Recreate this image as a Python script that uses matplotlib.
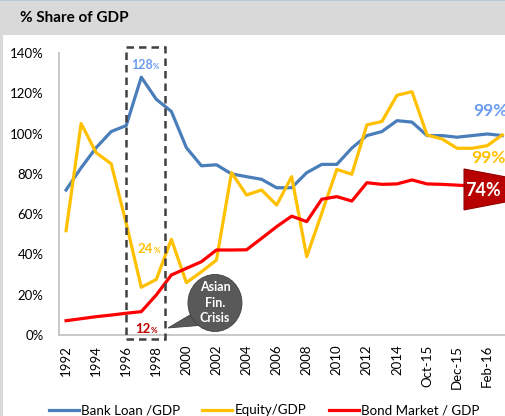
import numpy as np
import matplotlib.pyplot as plt
from matplotlib.patches import Ellipse, Polygon, Rectangle

plt.rcParams['font.family'] = ['Lato', 'DejaVu Sans']

# categories: annual 1992-2014, then monthly
periods = [str(y) for y in range(1992, 2015)] + ["Sep-15", "Oct-15", "Nov-15", "Dec-15",
                                                 "Jan-16", "Feb-16", "Mar-16"]
bank_loan = [72, 83, 93, 101, 104, 128, 117, 111, 93, 84, 84.5, 80, 78.6, 77.3, 73.1,
             73.1, 80.6, 84.7, 84.7, 92.8, 99, 101, 106.4, 105.7, 99, 99, 98.2, 99, 99.8, 99]
equity = [51.8, 105, 90.5, 85, 55.4, 23.7, 27.6, 47.5, 26, 31.4, 37.2, 80.6, 69.5, 72, 64.5,
          78.6, 38.9, 60.5, 82.2, 79.8, 104.3, 106, 119, 120.8, 99.3, 97.3, 92.7, 92.7, 94, 99.3]
bond = [7.1, 8.1, 9.1, 9.9, 10.8, 11.6, 19.9, 29.8, 33.1, 36.4, 42.2, 42.2, 42.3, 48, 53.8,
        59, 56.3, 67.4, 68.7, 66.5, 75.6, 74.8, 75, 77, 75, 74.8, 74.4, 74, 74, 74]

blue = '#4a7ebb'
yellow = '#ffc000'
red = '#ff0000'
lightblue = '#6c9cf0'

fig = plt.figure(figsize=(5.06, 4.16), dpi=100)
fig.patch.set_facecolor('white')

# title band and frame
fig.patches.append(Rectangle((0, 0.915), 1, 0.085, transform=fig.transFigure,
                             facecolor='#d9d9d9', edgecolor='none', zorder=0))
fig.patches.append(Rectangle((0, 0.997), 1, 0.003, transform=fig.transFigure,
                             facecolor='#b8c6d6', edgecolor='none', zorder=1))
fig.patches.append(Rectangle((0, 0), 0.005, 0.915, transform=fig.transFigure,
                             facecolor='#d9d9d9', edgecolor='none', zorder=0))
fig.text(0.04, 0.957, "% Share of GDP", fontsize=11, fontweight='bold', va='center')

ax = fig.add_axes([0.1166, 0.1947, 0.8834, 0.6779])
x = np.arange(len(periods))

ax.plot(x, bank_loan, color=blue, lw=2.3, label="Bank Loan /GDP", zorder=3)
ax.plot(x, equity, color=yellow, lw=2.3, label="Equity/GDP", zorder=3)
ax.plot(x, bond, color=red, lw=2.3, label="Bond Market / GDP", zorder=3)

ax.set_xlim(-0.47, 29.25)
ax.set_ylim(0, 140)
ax.set_yticks(np.arange(0, 141, 20))
ax.set_yticklabels([f"{v}%" for v in range(0, 141, 20)], fontsize=9.5)
ax.set_xticks(x[::2])
ax.set_xticklabels(periods[::2], rotation=90, fontsize=9.5)
ax.tick_params(axis='y', length=0, pad=11)
ax.tick_params(axis='x', length=0, pad=7)
for s in ['top', 'right']:
    ax.spines[s].set_visible(False)
for s in ['left', 'bottom']:
    ax.spines[s].set_color('#bfbfbf')
    ax.spines[s].set_linewidth(1.2)

# Asian crisis box
ax.add_patch(Rectangle((4.0, -2), 2.6, 145, fill=False, edgecolor='#404040', lw=1.8,
                       linestyle=(0, (3, 2)), clip_on=False, zorder=4))

# small labels
def small_label(xv, yv, num, color, size):
    ax.text(xv, yv, num, color=color, fontsize=size, fontweight='bold',
            ha='right', va='baseline', zorder=6)
    ax.text(xv, yv, "%", color=color, fontsize=size * 0.62, fontweight='bold',
            ha='left', va='baseline', zorder=6)

small_label(5.75, 132, "128", lightblue, 9)
small_label(5.8, 40.7, "24", yellow, 9.5)
small_label(5.62, 1.0, "12", '#c00000', 9.5)

# end labels
ax.text(27.05, 111, "99%", color=lightblue, fontsize=12.5, fontweight='bold',
        ha='left', va='center', clip_on=False, zorder=6)
ax.text(26.95, 88, "99%", color=yellow, fontsize=12.5, fontweight='bold',
        ha='left', va='center', clip_on=False, zorder=6)

# arrow badge for bond
ax.add_patch(Polygon([[26.46, 82.4], [26.46, 62.1], [33.6, 72.3]], closed=True,
                     facecolor='#b80000', edgecolor='#900000', lw=0.8,
                     clip_on=False, zorder=5))
ax.text(27.75, 71.5, "74%", color='white', fontsize=13, fontweight='bold',
        ha='center', va='center', clip_on=False, zorder=6)

# callout bubble
ax.add_patch(Polygon([[8.7, 12.0], [9.3, 5.0], [6.78, 3.5]], closed=True,
                     facecolor='#595959', edgecolor='#404040', lw=0.6, zorder=5))
ax.add_patch(Ellipse((9.9, 15.9), 3.59, 28.3, facecolor='#595959', edgecolor='#404040',
                     lw=0.6, zorder=5))
ax.text(9.9, 15.9, "Asian\nFin.\nCrisis", color='white', fontsize=9, fontweight='bold',
        ha='center', va='center', linespacing=1.35, zorder=6)

fig.legend(loc='center', bbox_to_anchor=(0.522, 0.014), ncol=3, frameon=False,
           fontsize=9.6, handlelength=2.25, handletextpad=0.2, columnspacing=1.65)

fig.savefig("out.png", dpi=100)
